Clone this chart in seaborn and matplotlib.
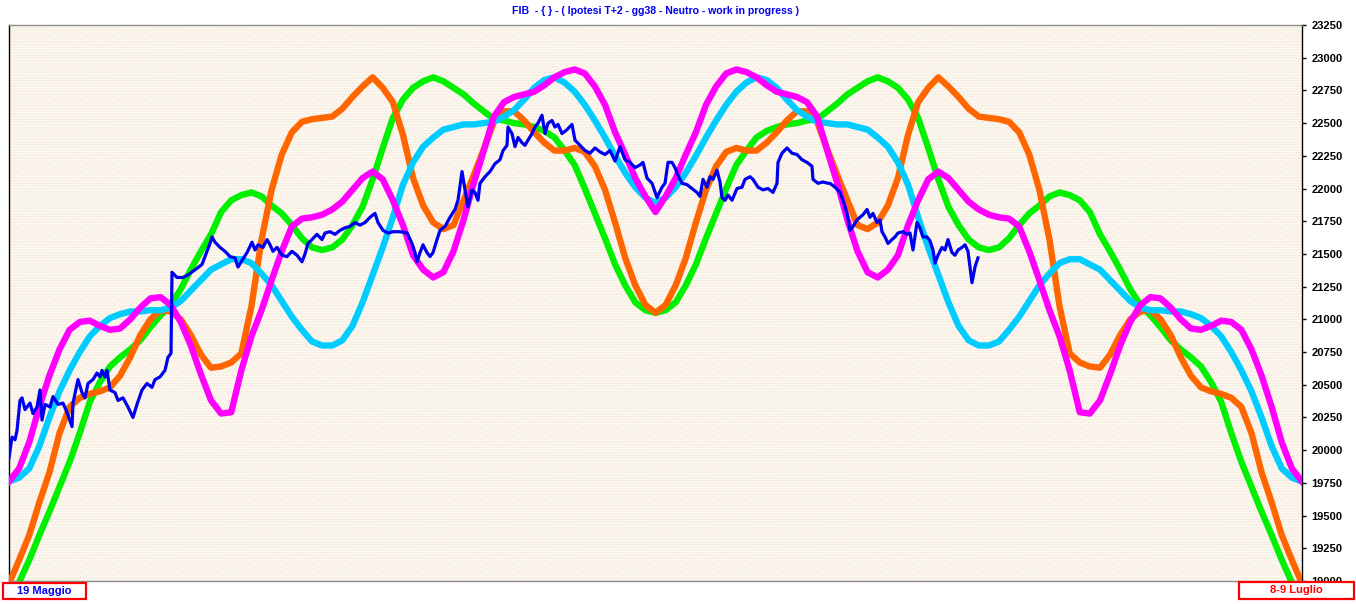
import numpy as np
import pandas as pd
import matplotlib
matplotlib.use("Agg")
import matplotlib.pyplot as plt
import seaborn as sns
from matplotlib.patches import Rectangle

# ---------------- data ----------------
title = "FIB  - { } - ( Ipotesi T+2 - gg38 - Neutro - work in progress )"
label_start = "19 Maggio"
label_end = "8-9 Luglio"

# time axis of the projected cycles (arbitrary units, 129 samples)
curve_t = np.linspace(0, 1293, 129)

green = [18850, 18990, 19160, 19350, 19530, 19720, 19910, 20130, 20370, 20520,
         20640, 20710, 20770, 20840, 20940, 21030, 21110, 21230, 21380, 21520,
         21650, 21820, 21910, 21950, 21970, 21940, 21870, 21810, 21720, 21620,
         21550, 21530, 21550, 21610, 21720, 21860, 22070, 22310, 22540, 22680,
         22770, 22820, 22850, 22820, 22770, 22720, 22650, 22590, 22530, 22520,
         22500, 22490, 22470, 22440, 22390, 22290, 22180, 22000, 21810, 21620,
         21420, 21260, 21130, 21070, 21050,
         21070, 21130, 21260, 21420, 21620, 21810, 22000, 22180, 22290, 22390,
         22440, 22470, 22490, 22500, 22520, 22530, 22590, 22650, 22720, 22770,
         22820, 22850, 22820, 22770, 22680, 22540, 22310, 22070, 21860, 21720,
         21610, 21550, 21530, 21550, 21620, 21720, 21810, 21870, 21940, 21970,
         21950, 21910, 21820, 21650, 21520, 21380, 21230, 21110, 21030, 20940,
         20840, 20770, 20710, 20640, 20520, 20370, 20130, 19910, 19720, 19530,
         19350, 19160, 18990, 18850]

orange = [18980, 19160, 19350, 19600, 19830, 20130, 20330, 20400, 20430, 20450,
          20480, 20570, 20710, 20880, 21000, 21070, 21060, 21000, 20880, 20730,
          20630, 20640, 20670, 20740, 21100, 21610, 21990, 22260, 22430, 22510,
          22530, 22540, 22550, 22610, 22700, 22780, 22850, 22770, 22660, 22410,
          22080, 21870, 21740, 21690, 21720, 21910, 22100, 22300, 22510, 22590,
          22590, 22520, 22430, 22350, 22290, 22290, 22310, 22280, 22170, 21990,
          21740, 21470, 21260, 21110, 21050,
          21110, 21260, 21470, 21740, 21990, 22170, 22280, 22310, 22290, 22290,
          22350, 22430, 22520, 22590, 22590, 22510, 22300, 22100, 21910, 21720,
          21690, 21740, 21870, 22080, 22410, 22660, 22770, 22850, 22780, 22700,
          22610, 22550, 22540, 22530, 22510, 22430, 22260, 21990, 21610, 21100,
          20740, 20670, 20640, 20630, 20730, 20880, 21000, 21060, 21070, 21000,
          20880, 20710, 20570, 20480, 20450, 20430, 20400, 20330, 20130, 19830,
          19600, 19350, 19160, 18980]

cyan = [19760, 19790, 19860, 20030, 20250, 20450, 20610, 20750, 20870, 20950,
        21010, 21040, 21060, 21060, 21070, 21070, 21090, 21140, 21220, 21300,
        21380, 21420, 21460, 21460, 21430, 21350, 21260, 21140, 21020, 20920,
        20830, 20800, 20800, 20840, 20950, 21130, 21340, 21550, 21780, 22030,
        22200, 22320, 22390, 22450, 22470, 22490, 22490, 22500, 22510, 22550,
        22600, 22680, 22770, 22830, 22850, 22810, 22740, 22640, 22520, 22390,
        22250, 22120, 22010, 21930, 21890,
        21930, 22010, 22120, 22250, 22390, 22520, 22640, 22740, 22810, 22850,
        22830, 22770, 22680, 22600, 22550, 22510, 22500, 22490, 22490, 22470,
        22450, 22390, 22320, 22200, 22030, 21780, 21550, 21340, 21130, 20950,
        20840, 20800, 20800, 20830, 20920, 21020, 21140, 21260, 21350, 21430,
        21460, 21460, 21420, 21380, 21300, 21220, 21140, 21090, 21070, 21070,
        21060, 21060, 21040, 21010, 20950, 20870, 20750, 20610, 20450, 20250,
        20030, 19860, 19790, 19760]

magenta = [19760, 19860, 20060, 20330, 20570, 20770, 20920, 20980, 20990, 20950,
           20920, 20930, 21000, 21090, 21160, 21170, 21110, 20980, 20800, 20580,
           20380, 20280, 20290, 20610, 20870, 21070, 21300, 21520, 21710, 21770,
           21780, 21800, 21840, 21900, 21990, 22080, 22130, 22070, 21910, 21720,
           21490, 21380, 21320, 21360, 21520, 21760, 22040, 22290, 22550, 22660,
           22700, 22720, 22740, 22790, 22850, 22890, 22910, 22880, 22780, 22640,
           22430, 22260, 22080, 21940, 21820,
           21940, 22080, 22260, 22430, 22640, 22780, 22880, 22910, 22890, 22850,
           22790, 22740, 22720, 22700, 22660, 22550, 22290, 22040, 21760, 21520,
           21360, 21320, 21380, 21490, 21720, 21910, 22070, 22130, 22080, 21990,
           21900, 21840, 21800, 21780, 21770, 21710, 21520, 21300, 21070, 20870,
           20610, 20290, 20280, 20380, 20580, 20800, 20980, 21110, 21170, 21160,
           21090, 21000, 20930, 20920, 20950, 20990, 20980, 20920, 20770, 20570,
           20330, 20060, 19860, 19760]

# actual price (FIB), sampled on the same time axis
blue_t = [0, 3, 6, 8, 11, 13, 16, 21, 24, 28, 31, 33, 36, 41, 44, 49, 54, 58, 63, 64, 69, 73, 76, 79,
          84, 88, 91, 93, 96, 98, 101, 106, 109, 114, 119, 124, 128, 133, 138, 143, 146, 151, 156, 159,
          162, 163, 168, 174, 179, 188, 193, 196, 201, 203, 206, 211, 216, 221, 226, 229, 233, 238,
          243, 246, 249, 254, 258, 261, 264, 268, 273, 278, 283, 288, 293, 296, 299, 303, 308, 313,
          316, 321, 326, 331, 336, 341, 346, 351, 356, 361, 366, 369, 374, 379, 384, 391, 398, 403,
          406, 408, 411, 414, 418, 421, 424, 428, 431, 436, 441, 446, 449, 453, 456, 459, 463, 466,
          469, 471, 476, 481, 486, 491, 494, 498, 499, 503, 506, 509, 513, 516, 519, 523, 526, 529,
          533, 536, 539, 543, 546, 549, 553, 558, 563, 566, 571, 576, 581, 586, 591, 596, 601, 606,
          611, 616, 621, 626, 631, 634, 638, 643, 648, 653, 656, 659, 663, 666, 669, 673, 678, 683,
          688, 691, 694, 698, 701, 704, 708, 711, 713, 716, 719, 723, 728, 733, 736, 741, 744, 749,
          754, 759, 764, 768, 769, 773, 778, 783, 788, 793, 798, 803, 804, 809, 814, 819, 821, 826,
          831, 834, 838, 841, 844, 848, 851, 854, 858, 861, 864, 868, 871, 873, 876, 879, 883, 886,
          889, 894, 898, 901, 904, 908, 911, 914, 918, 921, 924, 926, 929, 933, 936, 939, 943, 946,
          949, 953, 956, 959, 961, 963, 966, 969]
blue_v = [19940, 20100, 20080, 20150, 20380, 20400, 20310, 20360, 20280, 20330, 20460, 20230, 20350,
          20330, 20410, 20350, 20360, 20290, 20180, 20360, 20540, 20440, 20400, 20510, 20540, 20590,
          20560, 20610, 20560, 20610, 20460, 20440, 20380, 20400, 20330, 20250, 20350, 20460, 20510,
          20480, 20540, 20560, 20610, 20710, 20740, 21360, 21320, 21320, 21340, 21390, 21420, 21480,
          21580, 21630, 21590, 21550, 21520, 21480, 21470, 21400, 21450, 21510, 21590, 21530, 21570,
          21550, 21610, 21570, 21520, 21550, 21490, 21480, 21520, 21490, 21440, 21500, 21580, 21610,
          21650, 21610, 21660, 21670, 21650, 21680, 21700, 21710, 21740, 21720, 21740, 21780, 21810,
          21740, 21680, 21660, 21670, 21670, 21660, 21580, 21510, 21440, 21510, 21570, 21510, 21480,
          21510, 21610, 21680, 21710, 21780, 21840, 21910, 22130, 21990, 21860, 21990, 21970, 21910,
          22040, 22090, 22130, 22190, 22220, 22290, 22330, 22470, 22420, 22320, 22390, 22350, 22330,
          22370, 22420, 22470, 22500, 22560, 22420, 22500, 22520, 22470, 22490, 22420, 22450, 22490,
          22370, 22330, 22290, 22270, 22310, 22280, 22260, 22290, 22210, 22320, 22220, 22200, 22160,
          22180, 22200, 22080, 22040, 21930, 22010, 22040, 22200, 22200, 22160, 22100, 22040, 22030,
          22000, 21970, 21940, 22070, 22010, 22090, 22070, 22140, 22050, 21930, 21910, 21950, 21910,
          22000, 22010, 22070, 22090, 22070, 22010, 21990, 22000, 21970, 22040, 22200, 22270, 22310,
          22270, 22260, 22220, 22200, 22170, 22070, 22040, 22050, 22040, 22040, 22010, 21970, 21910,
          21810, 21680, 21710, 21760, 21780, 21800, 21840, 21780, 21810, 21740, 21760, 21670, 21630,
          21580, 21610, 21630, 21660, 21670, 21650, 21660, 21530, 21740, 21700, 21630, 21630, 21600,
          21530, 21430, 21490, 21550, 21530, 21610, 21510, 21490, 21530, 21550, 21570, 21520, 21400,
          21280, 21400, 21470]

y_ticks = list(range(19000, 23251, 250))

for s in (green, orange, cyan, magenta):
    assert len(s) == len(curve_t)
assert len(blue_t) == len(blue_v)

# ---------------- figure ----------------
W, H = 1356, 604
fig = plt.figure(figsize=(W / 100, H / 100), dpi=100, facecolor="white")
ax = fig.add_axes([9 / W, 23 / H, 1293 / W, 556 / H])

# dotted paper-like background
ax.set_facecolor("#FDFAF0")
plt.rcParams["hatch.linewidth"] = 0.8
bg = Rectangle((0, 0), 1, 1, transform=ax.transAxes, facecolor="none",
               edgecolor="#F2E2DC", hatch="......", linewidth=0, zorder=0)
ax.add_patch(bg)

n = len(curve_t)
df = pd.DataFrame({
    "t": np.concatenate([curve_t] * 4),
    "value": np.concatenate([green, orange, cyan, magenta]),
    "series": ["green"] * n + ["orange"] * n + ["cyan"] * n + ["magenta"] * n,
})
palette = {"green": "#00F000", "orange": "#FF6600", "cyan": "#00CCFF", "magenta": "#FF00FF"}
sns.lineplot(data=df, x="t", y="value", hue="series", palette=palette, linewidth=4.6,
             sort=False, estimator=None, legend=False, ax=ax, zorder=3)

dfb = pd.DataFrame({"t": blue_t, "value": blue_v})
sns.lineplot(data=dfb, x="t", y="value", color="#0000F0", linewidth=2.3,
             sort=False, estimator=None, legend=False, ax=ax, zorder=4)

ax.set_xlim(0, 1293)
ax.set_ylim(19000, 23250)
ax.set_xlabel("")
ax.set_ylabel("")
ax.set_xticks([])
ax.yaxis.tick_right()
ax.set_yticks(y_ticks)
ax.set_yticklabels([str(v) for v in y_ticks])
ax.tick_params(axis="y", direction="out", length=3, width=1, color="black", pad=4,
               labelsize=8, labelcolor="black")
for lab in ax.get_yticklabels():
    lab.set_fontweight("bold")
    lab.set_family("Liberation Sans")

for side in ["left", "right"]:
    ax.spines[side].set_color("black")
    ax.spines[side].set_linewidth(1.0)
for side in ["top", "bottom"]:
    ax.spines[side].set_color("#8C8C8C")
    ax.spines[side].set_linewidth(1.0)

fig.text(655 / W, 1 - 11 / H, title, ha="center", va="center", color="#0000EE",
         fontsize=7.6, fontweight="bold", family="Liberation Sans")

# bottom date labels in red boxes
fig.patches.append(Rectangle((3 / W, 1 - 599 / H), 83 / W, 16 / H, transform=fig.transFigure,
                             facecolor="white", edgecolor="#FF0000", linewidth=1.6, zorder=5))
fig.patches.append(Rectangle((1239 / W, 1 - 599 / H), 115 / W, 17 / H, transform=fig.transFigure,
                             facecolor="white", edgecolor="#FF0000", linewidth=1.6, zorder=5))
fig.text(44 / W, 1 - 591 / H, label_start, ha="center", va="center", color="#0000EE",
         fontsize=8, fontweight="bold", family="Liberation Sans", zorder=6)
fig.text(1296 / W, 1 - 590 / H, label_end, ha="center", va="center", color="#FF0000",
         fontsize=8, fontweight="bold", family="Liberation Sans", zorder=6)

fig.savefig("out.png", dpi=100, facecolor="white")
